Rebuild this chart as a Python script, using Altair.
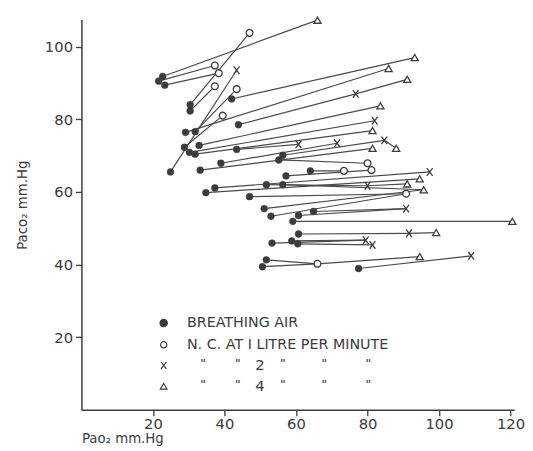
import altair as alt
import pandas as pd

# Breathing air (filled circles): Pao2, Paco2
air_x = [22.7, 21.6, 23.3, 30.4, 30.4, 29.1, 31.8, 42.0, 43.9, 28.8, 32.9, 30.2, 31.8,
         43.4, 24.9, 33.2, 39.0, 55.2, 56.3, 57.2, 64.0, 51.7, 56.3, 37.3, 34.8, 47.0,
         51.1, 53.0, 60.7, 64.9, 59.1, 60.7, 53.3, 58.8, 60.5, 51.7, 50.6, 77.5]
air_y = [91.8, 90.5, 89.4, 84.0, 82.3, 76.4, 76.6, 85.6, 78.5, 72.3, 72.8, 70.9, 70.4,
         71.7, 65.5, 66.0, 67.9, 68.8, 70.1, 64.4, 65.8, 62.0, 62.0, 61.1, 59.8, 58.7,
         55.4, 53.3, 53.5, 54.6, 51.9, 48.4, 45.9, 46.5, 45.7, 41.3, 39.4, 38.9]
# N.C. at 1 litre per minute (open circles)
nc1_x = [47.0, 37.3, 38.4, 37.3, 43.4, 39.5, 80.0, 81.1, 73.4, 90.8, 66.0]
nc1_y = [103.8, 94.8, 92.7, 89.1, 88.3, 81.0, 67.9, 66.0, 65.8, 59.5, 40.2]
# N.C. at 2 litres per minute (x)
nc2_x = [43.4, 76.7, 82.0, 60.7, 71.5, 84.7, 97.4, 80.0, 90.8, 91.6, 79.5, 81.4, 109.0]
nc2_y = [93.5, 87.0, 79.6, 73.1, 73.4, 74.2, 65.5, 61.7, 55.4, 48.6, 46.7, 45.4, 42.4]
# N.C. at 4 litres per minute (triangles)
nc4_x = [66.0, 93.2, 85.9, 91.1, 83.6, 81.4, 81.4, 88.0, 94.6, 91.1, 95.7, 120.5, 99.2, 94.6]
nc4_y = [107.3, 97.0, 94.0, 91.0, 83.7, 76.9, 72.0, 72.0, 63.6, 62.2, 60.6, 51.9, 48.8, 42.2]

# connecting lines (from point id -> to point id)
seg_from = ["a1", "a2", "a3", "a4", "a5", "a7", "a10", "a15", "a8", "a6", "a9", "x2",
            "a11", "a12", "a13", "a14", "a17", "a19", "x6", "a16", "a18", "a20", "a21",
            "a22", "x8", "a23", "a24", "a25", "a26", "a27", "a28", "a29", "a30", "a31",
            "a32", "x10", "a33", "a34", "a35", "a36", "a37", "c11", "a38"]
seg_to = ["t1", "c2", "c3", "c1", "c4", "c5", "c6", "x1", "t2", "t3", "x2", "t4",
          "t5", "x3", "t6", "x4", "x5", "x6", "t8", "t7", "c7", "c8", "c9",
          "x8", "t10", "t11", "x7", "t9", "c10", "t11", "c10", "x9", "x9", "t12",
          "x10", "t13", "x11", "x11", "x12", "c11", "c11", "t14", "x13"]

pts = {}
for pre, xs_, ys_ in [("a", air_x, air_y), ("c", nc1_x, nc1_y), ("x", nc2_x, nc2_y), ("t", nc4_x, nc4_y)]:
    for i, (px, py) in enumerate(zip(xs_, ys_)):
        pts[f"{pre}{i+1}"] = (px, py)

seg_df = pd.DataFrame({
    "x": [pts[f][0] for f in seg_from], "y": [pts[f][1] for f in seg_from],
    "x2": [pts[t][0] for t in seg_to], "y2": [pts[t][1] for t in seg_to],
})
air_df = pd.DataFrame({"x": air_x, "y": air_y})
nc1_df = pd.DataFrame({"x": nc1_x, "y": nc1_y})
nc2_df = pd.DataFrame({"x": nc2_x, "y": nc2_y})
nc4_df = pd.DataFrame({"x": nc4_x, "y": nc4_y})

# legend
leg_sym_x = 23.0
leg_rows_y = [23.9, 17.9, 12.2, 6.5]
leg_text_x = 29.5
leg_texts = ["BREATHING AIR", "N. C. AT I LITRE PER MINUTE"]
ditto_x = [34.0, 43.7, 56.3, 67.9, 80.2]
num_x = 49.9
num_labels = ["2", "4"]

INK = "#3c3c3c"
FONT = "DejaVu Sans"
X_PATH = "M -0.75 -1 L 0.75 1 M 0.75 -1 L -0.75 1"

xs = alt.Scale(domain=[0, 121], nice=False, zero=False)
ys = alt.Scale(domain=[0, 107.5], nice=False, zero=False)

xaxis = alt.Axis(values=[20, 40, 60, 80, 100, 120], title="Pao₂ mm.Hg", grid=False,
                 tickSize=6, labelPadding=1, titleX=0, titleY=29, titleAlign="left",
                 titleAnchor="start", titleBaseline="middle", titleAngle=0,
                 domainColor=INK, domainWidth=1.5, tickColor=INK, tickWidth=1.3,
                 labelFont=FONT, labelFontSize=15, labelColor=INK, titleFont=FONT,
                 titleFontSize=13.5, titleColor=INK, titleFontWeight="normal")
yaxis = alt.Axis(values=[20, 40, 60, 80, 100], title="Paco₂ mm.Hg", grid=False,
                 tickSize=6, labelPadding=3, titleX=-60, titleY=188, titleAlign="center",
                 titleBaseline="middle", titleAngle=270,
                 domainColor=INK, domainWidth=1.5, tickColor=INK, tickWidth=1.3,
                 labelFont=FONT, labelFontSize=15, labelColor=INK, titleFont=FONT,
                 titleFontSize=13.5, titleColor=INK, titleFontWeight="normal")

X = alt.X("x:Q", scale=xs, axis=xaxis)
Y = alt.Y("y:Q", scale=ys, axis=yaxis)

lines = alt.Chart(seg_df).mark_rule(color="#4a4a4a", strokeWidth=1.2).encode(
    x=X, y=Y, x2="x2:Q", y2="y2:Q")

def enc(df, mark):
    return alt.Chart(df).mark_point(**mark).encode(x=X, y=Y)

p_nc1 = enc(nc1_df, dict(shape="circle", size=48, filled=True, fill="white", stroke=INK, strokeWidth=1.3, opacity=1))
p_nc2 = enc(nc2_df, dict(shape=X_PATH, size=60, filled=False, stroke=INK, strokeWidth=1.3, opacity=1))
p_nc4 = enc(nc4_df, dict(shape="triangle-up", size=52, filled=True, fill="white", stroke=INK, strokeWidth=1.3, opacity=1))
p_air = enc(air_df, dict(shape="circle", size=48, filled=True, fill=INK, stroke=INK, strokeWidth=0.5, opacity=1))

# legend layers
leg_sym = pd.DataFrame({"x": [leg_sym_x] * 4, "y": leg_rows_y})
l_air = enc(leg_sym.iloc[[0]], dict(shape="circle", size=45, filled=True, fill=INK, stroke=INK, opacity=1))
l_nc1 = enc(leg_sym.iloc[[1]], dict(shape="circle", size=40, filled=True, fill="white", stroke=INK, strokeWidth=1.2, opacity=1))
l_nc2 = enc(leg_sym.iloc[[2]], dict(shape=X_PATH, size=50, filled=False, stroke=INK, strokeWidth=1.2, opacity=1))
l_nc4 = enc(leg_sym.iloc[[3]], dict(shape="triangle-up", size=45, filled=True, fill="white", stroke=INK, strokeWidth=1.2, opacity=1))

txt_df = pd.DataFrame({"x": [leg_text_x] * 2, "y": leg_rows_y[:2], "t": leg_texts})
txt = alt.Chart(txt_df).mark_text(align="left", baseline="middle", font=FONT, fontSize=14.5,
                                  color=INK).encode(x=X, y=Y, text="t:N")

dit_rows = []
for ry, lab in zip(leg_rows_y[2:], num_labels):
    for dx in ditto_x:
        dit_rows.append({"x": dx, "y": ry + 0.3, "t": '"', "s": "d"})
    dit_rows.append({"x": num_x, "y": ry, "t": lab, "s": "n"})
dit_df = pd.DataFrame(dit_rows)
ditto = alt.Chart(dit_df[dit_df.s == "d"]).mark_text(align="center", baseline="middle", font=FONT,
                                                     fontSize=11, fontWeight="bold", color="#555555").encode(x=X, y=Y, text="t:N")
nums = alt.Chart(dit_df[dit_df.s == "n"]).mark_text(align="center", baseline="middle", font=FONT,
                                                    fontSize=15, color=INK).encode(x=X, y=Y, text="t:N")

chart = alt.layer(lines, p_nc1, p_nc2, p_nc4, p_air, l_air, l_nc1, l_nc2, l_nc4, txt, ditto, nums).properties(
    width=439, height=396,
    background="white",
    autosize=alt.AutoSizeParams(type="none"),
    padding={"left": 74.5, "top": 8.4, "right": 11, "bottom": 38},
).configure_view(strokeWidth=0)

chart.save("out.html", embed_options={"renderer": "svg", "actions": False})
